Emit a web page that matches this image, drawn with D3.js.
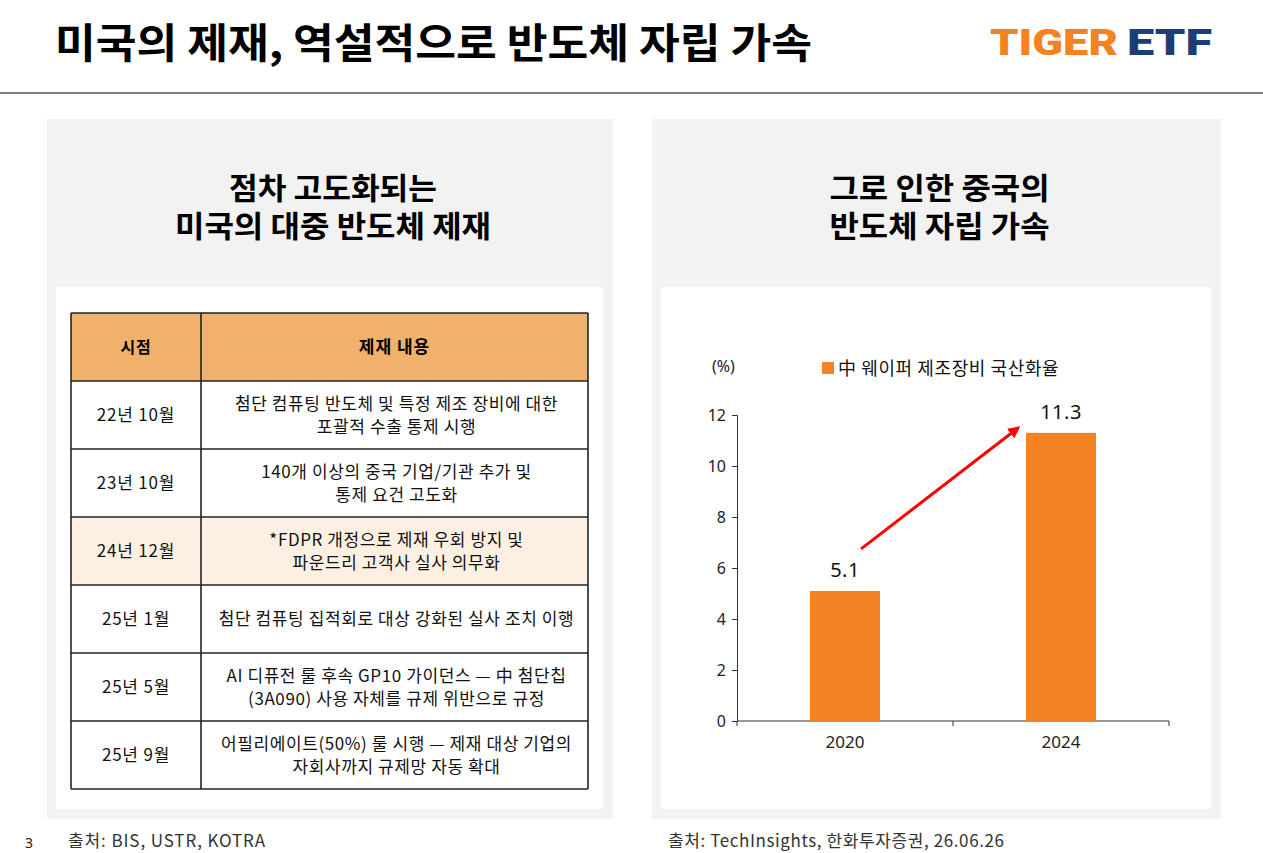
<html>
<head>
<meta charset="utf-8">
<script src="https://d3js.org/d3.v7.min.js"></script>
<style>
  body { margin: 0; background: #fff; }
  text { font-family: "Noto Sans CJK KR", "Noto Sans", sans-serif; }
</style>
</head>
<body>
<div id="slide"></div>
<script>
// ---- data ----
var years = ["2020", "2024"]
var rates = [5.1, 11.3]
var yTicks = [0, 2, 4, 6, 8, 10, 12]
var seriesName = "中 웨이퍼 제조장비 국산화율"

var tableHead = ["시점", "제재 내용"]
var periods = ["22년 10월", "23년 10월", "24년 12월", "25년 1월", "25년 5월", "25년 9월"]
var contents = [
  ["첨단 컴퓨팅 반도체 및 특정 제조 장비에 대한", "포괄적 수출 통제 시행"],
  ["140개 이상의 중국 기업/기관 추가 및", "통제 요건 고도화"],
  ["*FDPR 개정으로 제재 우회 방지 및", "파운드리 고객사 실사 의무화"],
  ["첨단 컴퓨팅 집적회로 대상 강화된 실사 조치 이행"],
  ["AI 디퓨전 룰 후속 GP10 가이던스 — 中 첨단칩", "(3A090) 사용 자체를 규제 위반으로 규정"],
  ["어필리에이트(50%) 룰 시행 — 제재 대상 기업의", "자회사까지 규제망 자동 확대"]
]
var highlighted = "24년 12월"

// arrow annotation, in data terms (category, fraction of bar width, value)
var arrowFrom = { year: "2020", frac: 0.73, value: 6.75 }
var arrowTo = { year: "2024", frac: -0.11, value: 11.5 }

var width = 1263
var height = 853
var orange = "#F28224"

var svg = d3.select("#slide").append("svg")
  .attr("width", width)
  .attr("height", height)

// ---- header ----
svg.append("text")
  .attr("x", 55).attr("y", 58)
  .attr("font-size", 41).attr("font-weight", 700)
  .attr("textLength", 757).attr("lengthAdjust", "spacingAndGlyphs")
  .attr("fill", "#000")
  .text("미국의 제재, 역설적으로 반도체 자립 가속")

svg.append("text")
  .attr("x", 990).attr("y", 55)
  .style("font-family", "Roboto, 'Liberation Sans', sans-serif")
  .attr("font-size", 37).attr("font-weight", 900)
  .attr("textLength", 128).attr("lengthAdjust", "spacingAndGlyphs")
  .attr("fill", "#F58220")
  .text("TIGER")
svg.append("text")
  .attr("x", 1127).attr("y", 55)
  .style("font-family", "Roboto, 'Liberation Sans', sans-serif")
  .attr("font-size", 37).attr("font-weight", 900)
  .attr("textLength", 85).attr("lengthAdjust", "spacingAndGlyphs")
  .attr("fill", "#1B3F73")
  .text("ETF")

svg.append("line")
  .attr("x1", 0).attr("x2", width)
  .attr("y1", 93).attr("y2", 93)
  .attr("stroke", "#7f7f7f").attr("stroke-width", 2)

// ---- panels ----
var panels = [
  { x: 47, w: 566, title: ["점차 고도화되는", "미국의 대중 반도체 제재"], tl: [208, 316] },
  { x: 652, w: 569, title: ["그로 인한 중국의", "반도체 자립 가속"], tl: [220, 220] }
]
panels.forEach(function(p) {
  svg.append("rect")
    .attr("x", p.x).attr("y", 119)
    .attr("width", p.w).attr("height", 700)
    .attr("fill", "#F2F2F2")
  svg.append("rect")
    .attr("x", p.x + 9).attr("y", 287)
    .attr("width", p.w - 19).attr("height", 522)
    .attr("fill", "#fff")
  var t = svg.append("text")
    .attr("text-anchor", "middle")
    .attr("font-size", 30).attr("font-weight", 700)
    .attr("fill", "#000")
  p.title.forEach(function(line, i) {
    t.append("tspan")
      .attr("x", p.x + p.w / 2 + 3).attr("y", 199 + i * 38)
      .attr("textLength", p.tl[i]).attr("lengthAdjust", "spacingAndGlyphs")
      .text(line)
  })
})

// ---- table ----
var tx0 = 71, tx1 = 201, tx2 = 588
var rowY = d3.scaleBand()
  .domain(["head"].concat(periods))
  .range([313, 789])

var tbl = svg.append("g")

tbl.append("rect")
  .attr("x", tx0).attr("y", rowY("head"))
  .attr("width", tx2 - tx0).attr("height", rowY.bandwidth())
  .attr("fill", "#F0B16D")

tbl.append("rect")
  .attr("x", tx0).attr("y", rowY(highlighted))
  .attr("width", tx2 - tx0).attr("height", rowY.bandwidth())
  .attr("fill", "#FDF0E2")

tbl.selectAll(".hline")
  .data(rowY.domain().concat(["end"]))
  .join("line")
  .attr("x1", tx0).attr("x2", tx2)
  .attr("y1", function(d) { return d === "end" ? 789 : rowY(d) })
  .attr("y2", function(d) { return d === "end" ? 789 : rowY(d) })
  .attr("stroke", "#222").attr("stroke-width", 1.6)

;[tx0, tx1, tx2].forEach(function(x) {
  tbl.append("line")
    .attr("x1", x).attr("x2", x)
    .attr("y1", 313).attr("y2", 789)
    .attr("stroke", "#222").attr("stroke-width", 1.6)
})

var c1 = (tx0 + tx1) / 2, c2 = (tx1 + tx2) / 2
var mid = function(key) { return rowY(key) + rowY.bandwidth() / 2 }

tbl.append("text")
  .attr("x", c1).attr("y", mid("head") + 6)
  .attr("text-anchor", "middle")
  .attr("font-size", 16).attr("font-weight", 700).attr("letter-spacing", 0.8)
  .text(tableHead[0])
tbl.append("text")
  .attr("x", c2).attr("y", mid("head") + 6)
  .attr("text-anchor", "middle")
  .attr("font-size", 17).attr("font-weight", 700).attr("letter-spacing", 1)
  .text(tableHead[1])

periods.forEach(function(per, i) {
  tbl.append("text")
    .attr("x", c1).attr("y", mid(per) + 6)
    .attr("text-anchor", "middle")
    .attr("font-size", 17).attr("letter-spacing", 0.8).attr("fill", "#111")
    .text(per)
  var lines = contents[i]
  var t = tbl.append("text")
    .attr("text-anchor", "middle")
    .attr("font-size", 17).attr("letter-spacing", 0.6).attr("fill", "#111")
  lines.forEach(function(l, j) {
    var off = (j - (lines.length - 1) / 2) * 23
    t.append("tspan")
      .attr("x", c2 + 2).attr("y", mid(per) + off + 6)
      .text(l)
  })
})

// ---- bar chart ----
var x = d3.scaleBand()
  .domain(years)
  .range([737, 1169])
  .paddingInner(0.676)
  .paddingOuter(0.338)

var y = d3.scaleLinear()
  .domain([0, 12])
  .range([721, 415])

var chart = svg.append("g")

var yAxis = chart.append("g")
  .attr("transform", "translate(737,0)")
  .call(d3.axisLeft(y).tickValues(yTicks).tickSize(5).tickPadding(6))
yAxis.selectAll("path, line").attr("stroke", "#333")
yAxis.selectAll("text")
  .style("font-family", "'Noto Sans', sans-serif")
  .attr("font-size", 16).attr("fill", "#222")

var xAxis = chart.append("g")
  .attr("transform", "translate(0,721)")
xAxis.append("line")
  .attr("x1", 737).attr("x2", 1169)
  .attr("stroke", "#333")
var step = x.step()
var bounds = [x.range()[0]].concat(years.map(function(d) { return x(d) + x.bandwidth() / 2 + step / 2 }))
xAxis.selectAll(".xt")
  .data(bounds)
  .join("line")
  .attr("x1", function(d) { return d }).attr("x2", function(d) { return d })
  .attr("y1", 0).attr("y2", 5)
  .attr("stroke", "#333")
xAxis.selectAll(".xl")
  .data(years)
  .join("text")
  .attr("x", function(d) { return x(d) + x.bandwidth() / 2 })
  .attr("y", 27)
  .attr("text-anchor", "middle")
  .style("font-family", "'Noto Sans', sans-serif")
  .attr("font-size", 17).attr("fill", "#222")
  .text(function(d) { return d })

chart.selectAll(".bar")
  .data(years)
  .join("rect")
  .attr("x", function(d) { return x(d) })
  .attr("y", function(d, i) { return y(rates[i]) })
  .attr("width", x.bandwidth())
  .attr("height", function(d, i) { return y(0) - y(rates[i]) })
  .attr("fill", orange)

chart.selectAll(".val")
  .data(years)
  .join("text")
  .attr("x", function(d) { return x(d) + x.bandwidth() / 2 })
  .attr("y", function(d, i) { return y(rates[i]) - 14 })
  .attr("text-anchor", "middle")
  .style("font-family", "'Noto Sans', sans-serif")
  .attr("font-size", 20).attr("letter-spacing", 0.5).attr("fill", "#111")
  .text(function(d, i) { return rates[i].toFixed(1) })

// legend
chart.append("text")
  .attr("x", 712).attr("y", 372)
  .style("font-family", "'Noto Sans', sans-serif")
  .attr("font-size", 16).attr("fill", "#222")
  .text("(%)")
chart.append("rect")
  .attr("x", 822).attr("y", 362)
  .attr("width", 12).attr("height", 12)
  .attr("fill", orange)
chart.append("text")
  .attr("x", 838).attr("y", 375)
  .attr("font-size", 18).attr("letter-spacing", 0.6).attr("fill", "#111")
  .text(seriesName)

// arrow
svg.append("defs").append("marker")
  .attr("id", "head")
  .attr("viewBox", "0 0 10 10")
  .attr("refX", 8).attr("refY", 5)
  .attr("markerWidth", 4).attr("markerHeight", 4)
  .attr("orient", "auto")
  .append("path")
  .attr("d", "M0,0 L10,5 L0,10 z")
  .attr("fill", "#FF0000")

var ax = function(a) { return x(a.year) + x.bandwidth() * a.frac }
chart.append("line")
  .attr("x1", ax(arrowFrom)).attr("y1", y(arrowFrom.value))
  .attr("x2", ax(arrowTo)).attr("y2", y(arrowTo.value))
  .attr("stroke", "#FF0000").attr("stroke-width", 3)
  .attr("marker-end", "url(#head)")

// ---- footer ----
svg.append("text")
  .attr("x", 25).attr("y", 848)
  .style("font-family", "'Noto Sans', sans-serif")
  .attr("font-size", 14).attr("fill", "#222")
  .text("3")
svg.append("text")
  .attr("x", 68).attr("y", 847)
  .attr("font-size", 17).attr("letter-spacing", 0.9).attr("fill", "#333")
  .text("출처: BIS, USTR, KOTRA")
svg.append("text")
  .attr("x", 668).attr("y", 847)
  .attr("font-size", 17).attr("letter-spacing", 0.6).attr("fill", "#333")
  .text("출처: TechInsights, 한화투자증권, 26.06.26")
</script>
</body>
</html>
